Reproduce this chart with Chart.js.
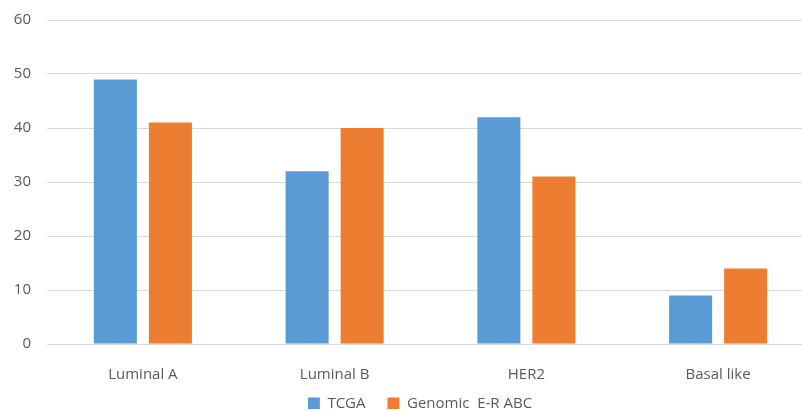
<!DOCTYPE html>
<html>
<head>
<meta charset="utf-8">
<script src="https://cdn.jsdelivr.net/npm/chart.js@4/dist/chart.umd.min.js"></script>
<style>
  html, body { margin: 0; padding: 0; background: #ffffff; overflow: hidden; }
  /* the plot runs a little past the right edge of the visible frame */
  #wrap { width: 802px; height: 411px; overflow: hidden; }
  #chart { display: block; }
</style>
</head>
<body>
<div id="wrap"><canvas id="chart" width="814" height="411"></canvas></div>
<script>
// Subtype distribution (%) per cohort
const categories = ['Luminal A', 'Luminal B', 'HER2', 'Basal like'];
const tcgaValues = [49, 32, 42, 9];
const genomicValues = [41, 40, 31, 14];
const seriesNames = ['TCGA', 'Genomic  E-R ABC'];

const textColor = '#595959';
const fontFamily = '"Open Sans", "Liberation Sans", sans-serif';

// The legend keeps a wide gap between its items but sits close under the axis:
// shrink the space it reserves, then stretch its box upward after layout so
// the items (drawn at top + padding) land just under the category labels.
const legendSpacing = {
  id: 'legendSpacing',
  beforeLayout(chart) {
    const lg = chart.legend;
    if (lg && !lg._wrappedFit) {
      const fit = lg.fit.bind(lg);
      lg.fit = function () { fit(); this.height = Math.max(0, this.height - 36); };
      lg._wrappedFit = true;
    }
  },
  afterLayout(chart) {
    const lg = chart.legend;
    if (lg) {
      lg.top -= 24;
      lg.height = lg.bottom - lg.top;
      lg.left += 13;
      lg.right += 13;
    }
  }
};

new Chart(document.getElementById('chart'), {
  type: 'bar',
  data: {
    labels: categories,
    datasets: [
      { label: seriesNames[0], data: tcgaValues, backgroundColor: '#5b9bd5' },
      { label: seriesNames[1], data: genomicValues, backgroundColor: '#ed7d31' }
    ]
  },
  plugins: [legendSpacing],
  options: {
    responsive: false,
    animation: false,
    layout: { padding: { top: 20, right: 0, left: 0, bottom: 2 } },
    datasets: {
      bar: { categoryPercentage: 0.574, barPercentage: 0.782 }
    },
    scales: {
      x: {
        grid: { display: false },
        border: { display: false },
        ticks: { color: textColor, font: { family: fontFamily, size: 15 }, padding: 14 }
      },
      y: {
        min: 0, max: 60,
        grid: { color: '#d9d9d9', lineWidth: 1, drawTicks: false },
        border: { display: false },
        ticks: { stepSize: 10, color: textColor, font: { family: fontFamily, size: 15 }, padding: 16 },
        afterFit: (axis) => { axis.width = 47; axis.paddingTop = 0; }
      }
    },
    plugins: {
      legend: {
        position: 'bottom',
        labels: {
          color: textColor,
          font: { family: fontFamily, size: 15 },
          boxWidth: 12, boxHeight: 12, padding: 22
        }
      },
      tooltip: { enabled: false }
    }
  }
});
</script>
</body>
</html>
